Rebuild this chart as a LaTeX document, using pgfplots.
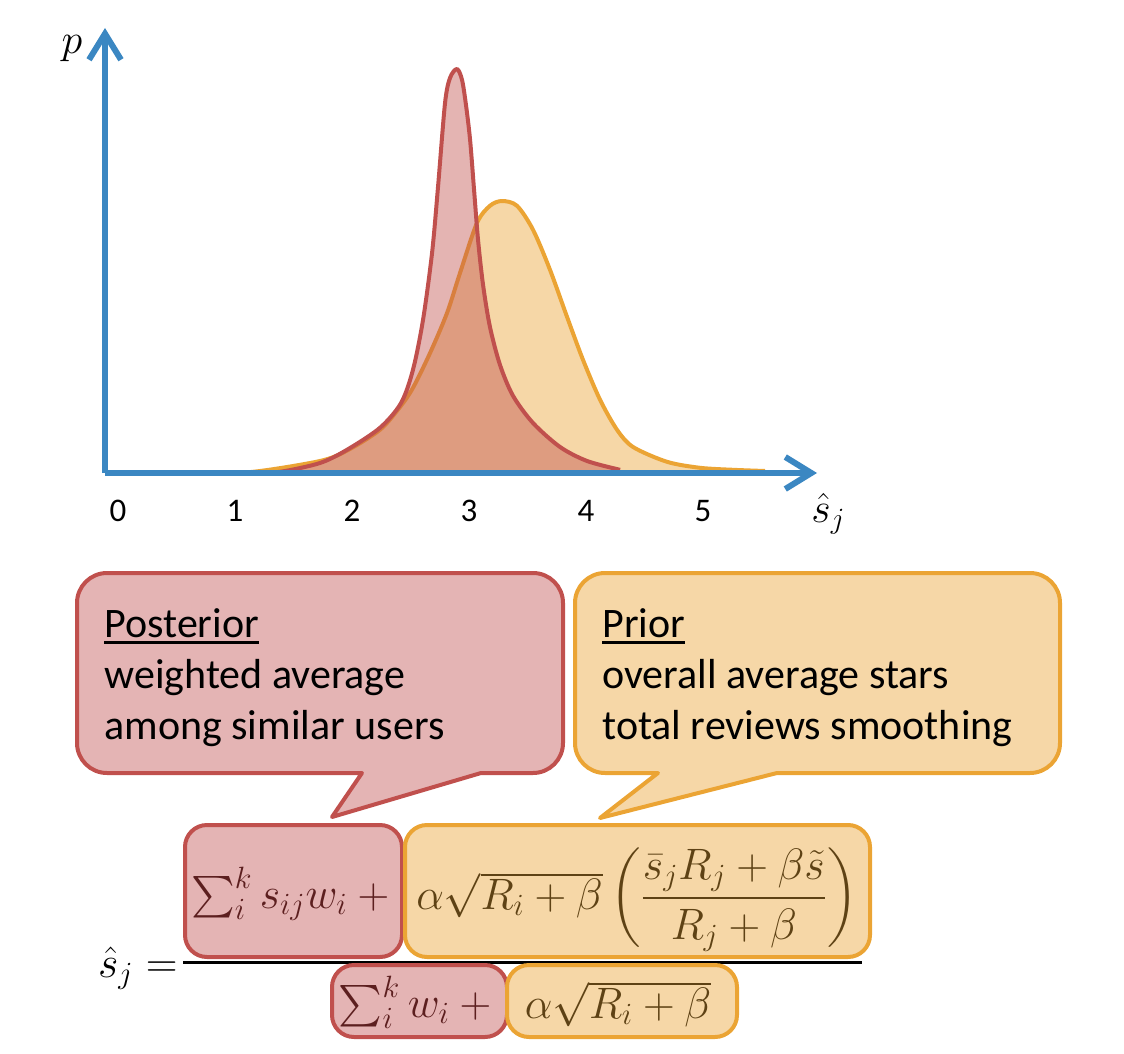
\RequirePackage{fix-cm}
\documentclass[border=0pt]{standalone}
\usepackage{amsmath}
\usepackage{fontspec}
\setmainfont{Carlito}
\usepackage{pgfplots}
\usepackage{pgfplotstable}
\pgfplotsset{compat=1.18}
\usetikzlibrary{arrows.meta}

\definecolor{axisblue}{HTML}{3B87C2}
\definecolor{redline}{HTML}{C0504D}
\definecolor{redfill}{HTML}{E4B4B4}
\definecolor{orline}{HTML}{EBA434}
\definecolor{orfill}{HTML}{F6D7A7}
\definecolor{redtext}{HTML}{5C1F1F}
\definecolor{ortext}{HTML}{5E4215}

\newcommand\ul[1]{\setbox0\hbox{#1}\rlap{\rule[-3.4pt]{\wd0}{1.2pt}}\box0}

% posterior (red) curve
\pgfplotstableread{
x y
1.128 0.000
1.385 0.003
1.726 0.025
1.957 0.058
2.239 0.113
2.419 0.175
2.521 0.258
2.607 0.383
2.684 0.550
2.735 0.715
2.795 0.925
2.838 0.988
2.897 1.010
2.940 0.983
2.974 0.920
3.009 0.833
3.043 0.708
3.077 0.583
3.120 0.470
3.179 0.365
3.265 0.270
3.376 0.193
3.547 0.125
3.778 0.065
4.009 0.030
4.291 0.008
}\posterior

% prior (orange) curve
\pgfplotstableread{
x y
-0.111 0.000
0.701 0.000
1.154 0.003
1.726 0.030
1.957 0.056
2.239 0.108
2.410 0.165
2.521 0.213
2.667 0.300
2.812 0.400
2.923 0.500
3.068 0.625
3.179 0.668
3.282 0.680
3.410 0.668
3.547 0.608
3.692 0.508
3.838 0.390
3.974 0.283
4.120 0.183
4.265 0.108
4.402 0.065
4.692 0.028
4.974 0.013
5.256 0.008
5.530 0.005
}\prior

\begin{document}
\begin{tikzpicture}
\path[use as bounding box] (0pt,0pt) rectangle (562pt,-527pt);

\begin{axis}[
  at={(52.5pt,-236.5pt)}, anchor=south west,
  scale only axis, width=356pt, height=222.5pt,
  xmin=-0.1111, xmax=5.974, ymin=0, ymax=1.1125,
  axis x line=bottom, axis y line=left,
  axis line style={line width=3pt, draw=axisblue},
  every outer x axis line/.append style={-{Straight Barb[length=13pt,width=16pt]}},
  every outer y axis line/.append style={-{Straight Barb[length=13pt,width=16pt]}},
  xtick={0,1,2,3,4,5}, xticklabels={0,1,2,3,4,5},
  ytick=\empty, major tick length=0pt,
  xticklabel style={font=\fontsize{16.5}{20}\selectfont, anchor=base, yshift=-24pt},
  axis on top, clip=false,
]
\addplot[draw=none, fill=orfill, smooth] table {\prior} \closedcycle;
\addplot[draw=orline, line width=2pt, smooth, line join=round] table {\prior};
\addplot[draw=none, fill=redline, fill opacity=0.43, smooth] table {\posterior} \closedcycle;
\addplot[draw=redline, line width=2pt, smooth, line join=round] table {\posterior};
\end{axis}

\begin{scope}[x=0.5pt,y=-0.5pt]
% axis labels
\node[anchor=base, inner sep=0pt, font=\fontsize{21}{24}\selectfont] at (72,54) {$p$};
\node[anchor=base west, inner sep=0pt, font=\fontsize{21}{24}\selectfont] at (811,522) {$\hat{s}_j$};

% callouts
\draw[line width=2pt, draw=redline, fill=redfill, line join=round]
  (300,573) [rounded corners=15pt] -- (563,573) -- (563,773) [sharp corners] -- (481,773)
  -- (332,817) -- (362,773) [rounded corners=15pt] -- (77,773) -- (77,573) -- cycle;
\draw[line width=2pt, draw=orline, fill=orfill, line join=round]
  (800,573) [rounded corners=15pt] -- (1060,573) -- (1060,773) [sharp corners] -- (777,773)
  -- (600,818) -- (658,773) [rounded corners=15pt] -- (575,773) -- (575,573) -- cycle;

\begin{scope}[every node/.style={anchor=base west, inner sep=0pt, font=\fontsize{21}{25}\selectfont}]
\node at (104,637) {\ul{Posterior}};
\node at (104,688) {weighted average};
\node at (104,739) {among similar users};
\node at (602,637) {\ul{Prior}};
\node at (602,688) {overall average stars};
\node at (602,739) {total reviews smoothing};
\end{scope}

% formula
\draw[line width=1.5pt] (183,962) -- (862,962);
\draw[line width=2pt, draw=redline, fill=redfill, rounded corners=11pt] (185,825) rectangle (402,957);
\draw[line width=2pt, draw=orline, fill=orfill, rounded corners=11pt] (405,825) rectangle (870,957);
\draw[line width=2pt, draw=redline, fill=redfill, rounded corners=11pt] (332,965) rectangle (507,1037);
\draw[line width=2pt, draw=orline, fill=orfill, rounded corners=11pt] (507,965) rectangle (737,1037);

\begin{scope}[every node/.style={inner sep=0pt, font=\fontsize{22}{26}\selectfont}]
\node[anchor=base east] at (178,977) {$\hat{s}_j =$};
\node[anchor=base, text=redtext] at (295,908) {$\textstyle\sum_i^k s_{ij} w_i \mathbin{+}{}$};
\node[anchor=base, text=ortext] at (637,909) {$\alpha\sqrt{R_i+\beta}\left(\dfrac{\bar{s}_j R_j+\beta\tilde{s}}{R_j+\beta}\right)$};
\node[anchor=base, text=redtext] at (420,1017) {$\textstyle\sum_i^k w_i \mathbin{+}{}$};
\node[anchor=base, text=ortext] at (618,1018) {$\alpha\sqrt{R_i+\beta}$};
\end{scope}
\end{scope}
\end{tikzpicture}
\end{document}
